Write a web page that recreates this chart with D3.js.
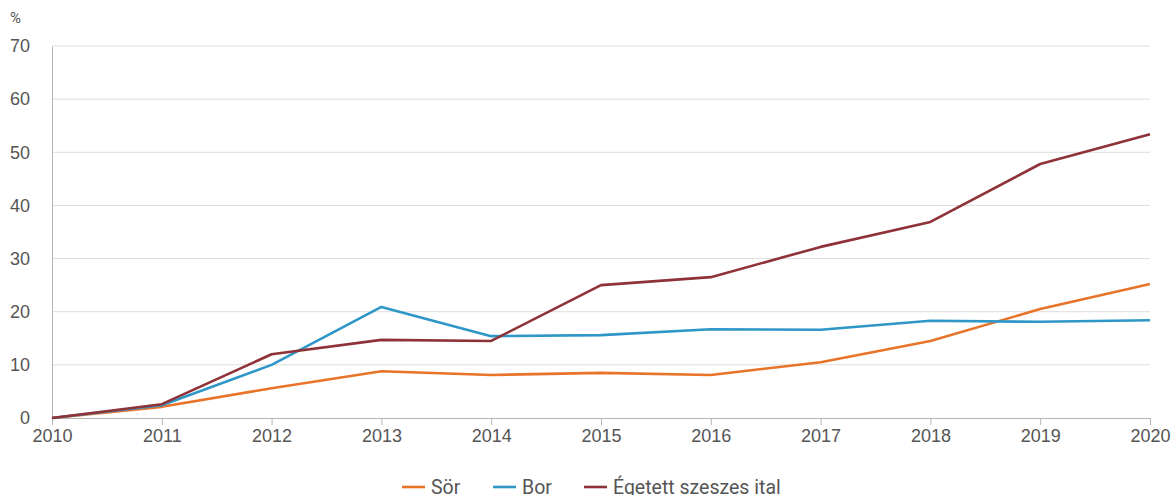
<!DOCTYPE html>
<html>
<head>
<meta charset="utf-8">
<script src="https://cdn.jsdelivr.net/npm/d3@7"></script>
<style>
  body { margin: 0; background: #fff; }
  svg { font-family: Roboto, "Open Sans", sans-serif; }
</style>
</head>
<body>
<svg width="1173" height="495"></svg>
<script>
// years on the x axis
var years = [2010, 2011, 2012, 2013, 2014, 2015, 2016, 2017, 2018, 2019, 2020];
// series values, % change vs 2010
var sor = [0, 2.1, 5.6, 8.8, 8.1, 8.5, 8.1, 10.5, 14.5, 20.5, 25.2];
var bor = [0, 2.4, 10.0, 20.9, 15.4, 15.6, 16.7, 16.6, 18.3, 18.1, 18.4];
var egetett = [0, 2.6, 12.0, 14.7, 14.5, 25.0, 26.5, 32.2, 36.9, 47.8, 53.4];
var seriesNames = ["Sör", "Bor", "Égetett szeszes ital"];
var yTicks = [0, 10, 20, 30, 40, 50, 60, 70];

var colors = ["#e8742a", "#2e97c8", "#8e3238"];
var allSeries = [sor, bor, egetett];

var svg = d3.select("svg");
var margin = {top: 46, right: 23, bottom: 77, left: 52};
var width = 1173 - margin.left - margin.right;
var height = 495 - margin.top - margin.bottom;

var x = d3.scaleLinear().domain([2010, 2020]).range([margin.left, margin.left + width]);
var y = d3.scaleLinear().domain([0, 70]).range([margin.top + height, margin.top]);

// gridlines
svg.append("g")
  .selectAll("line")
  .data(yTicks.filter(function(d) { return d > 0; }))
  .enter().append("line")
  .attr("x1", margin.left)
  .attr("x2", margin.left + width)
  .attr("y1", function(d) { return y(d); })
  .attr("y2", function(d) { return y(d); })
  .attr("stroke", "#dedede")
  .attr("stroke-width", 1);

// y axis
var yAxis = svg.append("g")
  .attr("transform", "translate(" + margin.left + ",0)")
  .call(d3.axisLeft(y).tickValues(yTicks).tickSize(0).tickPadding(22));
yAxis.select(".domain").attr("stroke", "#b5b5b5");
yAxis.selectAll("text").attr("fill", "#555").style("font-size", "18px");

// x axis
var xAxis = svg.append("g")
  .attr("transform", "translate(0," + (margin.top + height) + ")")
  .call(d3.axisBottom(x).tickValues(years).tickFormat(d3.format("d")).tickSize(7).tickSizeOuter(0).tickPadding(4));
xAxis.select(".domain").attr("stroke", "#b5b5b5");
xAxis.selectAll(".tick line").attr("stroke", "#b5b5b5");
xAxis.selectAll("text").attr("fill", "#555").style("font-size", "18px");

// unit label
svg.append("text")
  .attr("x", 10)
  .attr("y", 23)
  .attr("fill", "#555")
  .style("font-size", "15px")
  .text("%");

// lines
var line = d3.line()
  .x(function(d, i) { return x(years[i]); })
  .y(function(d) { return y(d); });

allSeries.forEach(function(s, i) {
  svg.append("path")
    .datum(s)
    .attr("fill", "none")
    .attr("stroke", colors[i])
    .attr("stroke-width", 2.6)
    .attr("stroke-linejoin", "round")
    .attr("d", line);
});

// legend
var legendX = [402, 493, 584];
var legend = svg.selectAll(".legend")
  .data(seriesNames)
  .enter().append("g")
  .attr("class", "legend")
  .attr("transform", function(d, i) { return "translate(" + legendX[i] + ",487)"; });
legend.append("line")
  .attr("x1", 0).attr("x2", 23)
  .attr("stroke", function(d, i) { return colors[i]; })
  .attr("stroke-width", 2.6);
legend.append("text")
  .attr("x", 29)
  .attr("y", 7)
  .attr("fill", "#555")
  .style("font-size", "19.5px")
  .text(function(d) { return d; });
</script>
</body>
</html>
